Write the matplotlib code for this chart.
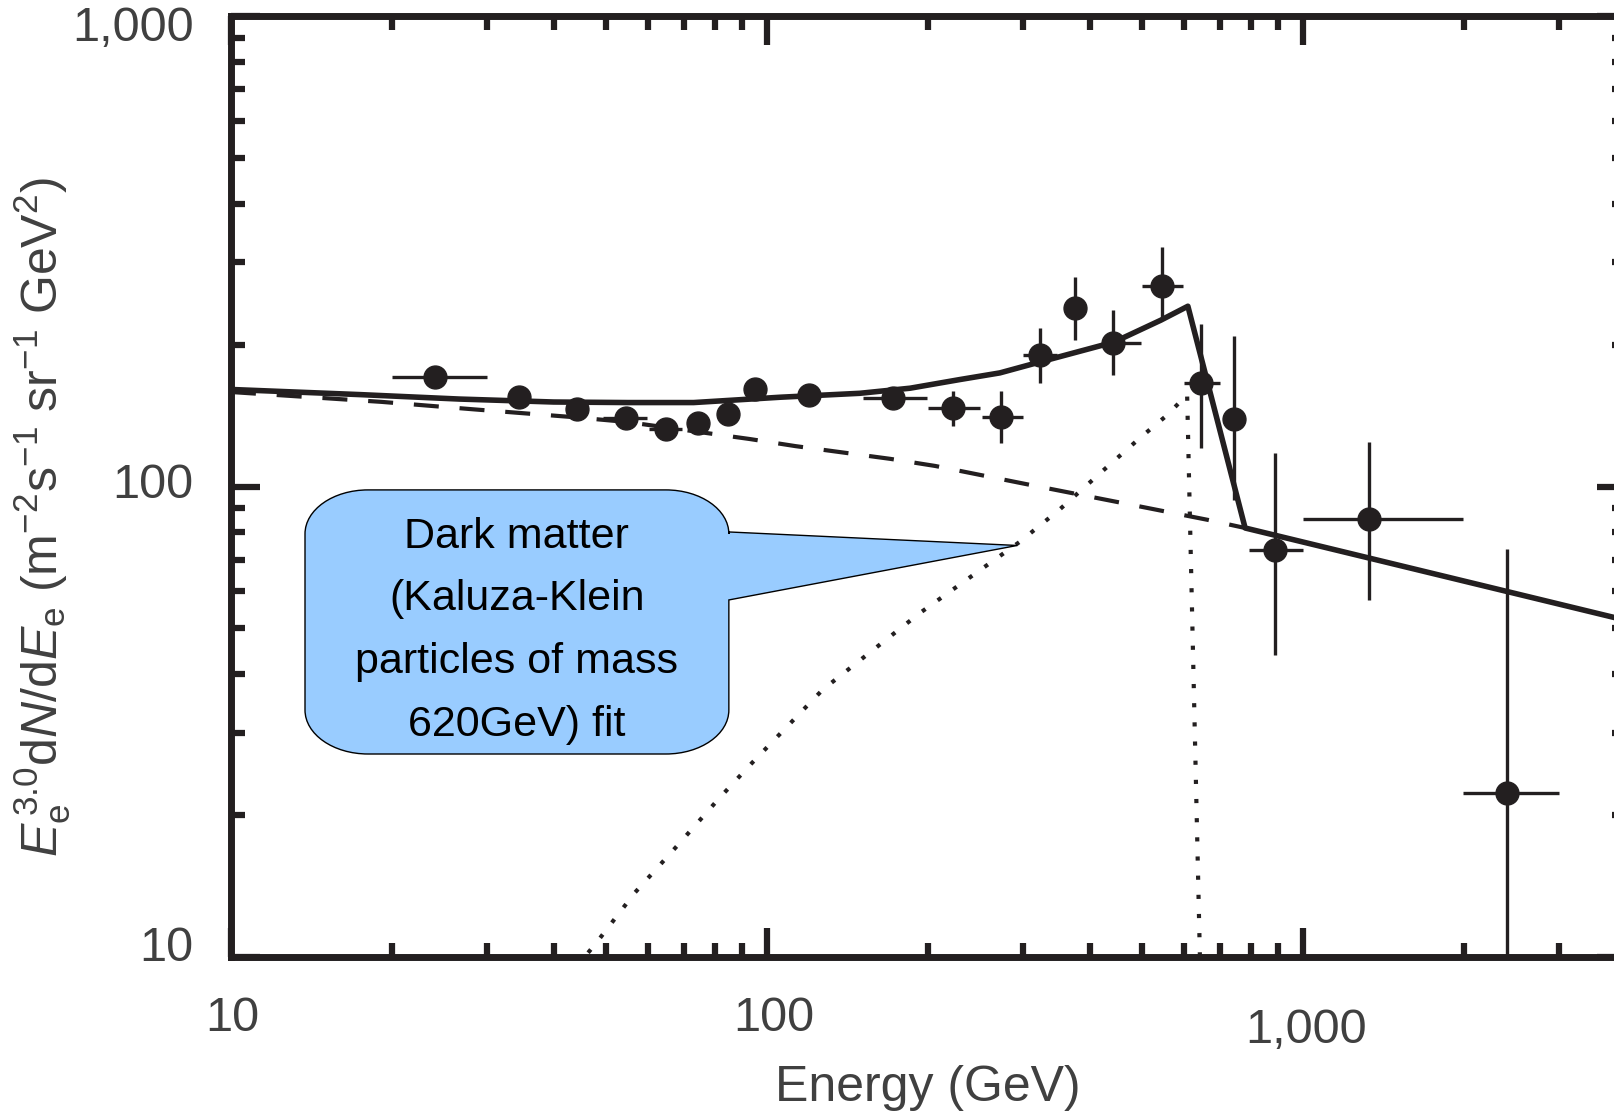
import matplotlib
matplotlib.use('Agg')
import matplotlib.pyplot as plt
from matplotlib.path import Path
from matplotlib.patches import PathPatch

plt.rcParams['font.family'] = ['Liberation Sans', 'DejaVu Sans']
plt.rcParams['mathtext.fontset'] = 'custom'
plt.rcParams['mathtext.rm'] = 'Liberation Sans'
plt.rcParams['mathtext.it'] = 'Liberation Sans:italic'

# measured electron spectrum (GeV, E^3 dN/dE)
energy = [24.0, 34.4, 44.3, 54.6, 64.8, 74.5, 84.7, 95.0, 120, 171.6, 222,
          273, 323, 375, 442, 545, 644, 744, 885, 1326, 2399]
flux = [171, 155, 146, 140, 132.5, 136.4, 142.8, 161, 156.7, 154.2, 146.9,
        140.5, 190.6, 239.6, 202.5, 267.6, 166, 139.1, 73.4, 85.3, 22.3]
e_lo = [20.0, 34.4, 44.3, 49.4, 60.2, 74.5, 84.7, 95.0, 120, 151.4, 200,
        251.5, 301, 375, 421.8, 500.8, 600.6, 744, 793, 1000.5, 1986]
e_hi = [30.1, 34.4, 44.3, 59.8, 69.3, 74.5, 84.7, 95.0, 120, 198.6, 250,
        300, 347, 375, 499, 598, 701, 744, 998.6, 1986, 3004]
f_lo = [171, 155, 146, 140, 132.5, 136.4, 142.8, 161, 156.7, 154.2, 134.7,
        123.7, 166, 205, 172.8, 226, 120.7, 93.7, 43.9, 57.3, 5]
f_hi = [171, 155, 146, 140, 132.5, 136.4, 142.8, 161, 156.7, 154.2, 160.1,
        160.1, 217.3, 278.9, 237.6, 323, 221.7, 209.5, 117.8, 124.7, 73.8]

# total fit (solid)
fit_e = [10, 17.4, 26.7, 40, 55, 73, 106, 149, 185, 229, 272, 322, 444,
         543, 610, 780, 4000]
fit_f = [161, 157, 153.6, 151.4, 151, 151, 155, 158, 162, 169, 174.6, 184,
         203, 226, 242, 81.7, 52]

# background (dashed)
bg_e = [10, 19.1, 28.5, 43.5, 54.8, 92.9, 113, 170, 206, 303, 448, 665, 780]
bg_f = [159, 151.5, 146, 140.6, 137.3, 126.3, 122, 114.6, 110.7, 101.4,
        92.9, 85, 81.7]

# dark matter component (dotted)
dm_e = [44, 48, 56.7, 67.9, 81.3, 93.3, 127, 193, 296, 351, 429, 499, 558,
        608, 643]
dm_f = [9.5, 10.7, 13.7, 17.2, 21.7, 25.7, 37, 53.9, 76.3, 89.3, 109.6,
        127.6, 142, 157, 9.5]

xtick_vals = [10, 100, 1000]
xtick_text = ['10', '100', '1,000']
ytick_vals = [10, 100, 1000]
ytick_text = ['10', '100', '1,000']

callout_text = 'Dark matter\n(Kaluza-Klein\nparticles of mass\n620GeV) fit'
callout_tip = (293, 75)

ink = '#231f20'
grey = '#404040'

fig = plt.figure(figsize=(16.15, 11.13), dpi=100)
ax = fig.add_axes([0.1430, 0.1402, 0.8636, 0.8450])
ax.set_xscale('log')
ax.set_yscale('log')
ax.set_xlim(10, 4000)
ax.set_ylim(10, 1000)

ax.plot(bg_e, bg_f, color=ink, lw=3, linestyle=(0, (6, 5)), dash_capstyle='butt', zorder=2)
ax.plot(dm_e, dm_f, color=ink, lw=3, linestyle=(0, (1, 3.6)), dash_capstyle='butt', zorder=2)
ax.plot(fit_e, fit_f, color=ink, lw=4, zorder=3)

xerr = [[e - lo for e, lo in zip(energy, e_lo)], [hi - e for e, hi in zip(energy, e_hi)]]
yerr = [[f - lo for f, lo in zip(flux, f_lo)], [hi - f for f, hi in zip(flux, f_hi)]]
ax.errorbar(energy, flux, xerr=xerr, yerr=yerr, fmt='o', ms=16.5, color=ink,
            elinewidth=2.4, capsize=0, zorder=4)

for s in ax.spines.values():
    s.set_linewidth(5)
    s.set_color(ink)
ax.tick_params(which='both', direction='in', top=True, right=True, color=ink,
               labelbottom=False, labelleft=False)
ax.tick_params(which='major', length=21, width=4.5)
ax.tick_params(which='minor', length=10, width=4.5)
ax.set_xticks(xtick_vals)
ax.set_yticks(ytick_vals)

# tick labels placed by hand (the 1,000 on x sits lower in the original)
for v, t, dx, dy in zip(xtick_vals, xtick_text, [1, 5, 2], [-44, -44, -53]):
    ax.annotate(t, xy=(v, 0), xycoords=('data', 'axes fraction'), xytext=(dx, dy),
                textcoords='offset points', ha='center', va='center', fontsize=35, color=grey)
for v, t, dy in zip(ytick_vals, ytick_text, [6, 1, -9]):
    ax.annotate(t, xy=(0, v), xycoords=('axes fraction', 'data'), xytext=(-27, dy),
                textcoords='offset points', ha='right', va='center', fontsize=35, color=grey)

ax.annotate('Energy (GeV)', xy=(0.5, 0), xycoords='axes fraction', xytext=(0, -94),
            textcoords='offset points', ha='center', va='center', fontsize=36, color=grey)
ax.annotate(r'$E_{\rm e}^{\,3.0}{\rm d}N/{\rm d}E_{\rm e}$ (m$^{-2}$s$^{-1}$ sr$^{-1}$ GeV$^{2}$)',
            xy=(0, 0.468), xycoords='axes fraction', xytext=(-136, 0),
            textcoords='offset points', ha='center', va='center', rotation=90,
            fontsize=36, color=grey)

# callout bubble with a tail pointing at the dark matter curve
L, R, B, T = 0.0531, 0.357, 0.2158, 0.4966
rx, ry = 0.0452, 0.0468
k = 0.5523
tb_top, tb_bot = 0.4519, 0.3796
tip = ax.transAxes.inverted().transform(ax.transData.transform(callout_tip))
verts = [(L + rx, T), (R - rx, T),
         (R - rx + k * rx, T), (R, T - ry + k * ry), (R, T - ry),
         (R, tb_top), tuple(tip), (R, tb_bot), (R, B + ry),
         (R, B + ry - k * ry), (R - rx + k * rx, B), (R - rx, B),
         (L + rx, B),
         (L + rx - k * rx, B), (L, B + ry - k * ry), (L, B + ry),
         (L, T - ry),
         (L, T - ry + k * ry), (L + rx - k * rx, T), (L + rx, T),
         (L + rx, T)]
codes = [Path.MOVETO, Path.LINETO,
         Path.CURVE4, Path.CURVE4, Path.CURVE4,
         Path.LINETO, Path.LINETO, Path.LINETO, Path.LINETO,
         Path.CURVE4, Path.CURVE4, Path.CURVE4,
         Path.LINETO,
         Path.CURVE4, Path.CURVE4, Path.CURVE4,
         Path.LINETO,
         Path.CURVE4, Path.CURVE4, Path.CURVE4,
         Path.CLOSEPOLY]
bubble = PathPatch(Path(verts, codes), transform=ax.transAxes, facecolor='#99ccff',
                   edgecolor='black', lw=1, zorder=5, clip_on=False)
ax.add_patch(bubble)
ax.text((L + R) / 2, 0.3470, callout_text, transform=ax.transAxes, ha='center',
        va='center', fontsize=31, linespacing=1.73, color='black', zorder=6)

fig.savefig('out.png', dpi=100)
